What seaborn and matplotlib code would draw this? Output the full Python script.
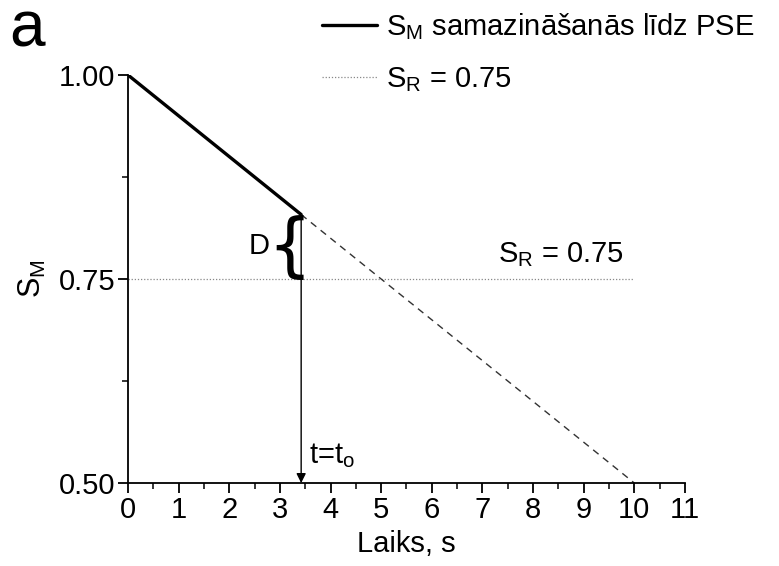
import matplotlib
matplotlib.use("Agg")
import matplotlib.pyplot as plt
import seaborn as sns
import pandas as pd

# Decrease of S_M until the PSE, then its extrapolation to zero
t_solid = [0.0, 3.42]
sm_solid = [1.00, 0.829]
t_dashed = [3.42, 10.0]
sm_dashed = [0.829, 0.50]
t_ref = [0.0, 10.0]
sr_ref = [0.75, 0.75]
t0 = 3.42
sm_t0 = 0.829

x_ticks = [0, 1, 2, 3, 4, 5, 6, 7, 8, 9, 10, 11]
y_ticks = [0.50, 0.75, 1.00]

sns.set_style("ticks")
plt.rcParams["font.family"] = ["Liberation Sans", "DejaVu Sans"]
plt.rcParams["mathtext.fontset"] = "custom"
plt.rcParams["mathtext.rm"] = "Liberation Sans"
plt.rcParams["mathtext.it"] = "Liberation Sans"
plt.rcParams["mathtext.bf"] = "Liberation Sans:bold"
for key in ("text.color", "axes.labelcolor", "xtick.color", "ytick.color",
            "axes.edgecolor"):
    plt.rcParams[key] = "black"

fig = plt.figure(figsize=(7.79, 5.66), dpi=100)
ax = fig.add_axes([0.1643, 0.1466, 0.8793 - 0.1643, 0.8675 - 0.1466])

solid = pd.DataFrame({"t": t_solid, "sm": sm_solid})
dashed = pd.DataFrame({"t": t_dashed, "sm": sm_dashed})
ref = pd.DataFrame({"t": t_ref, "sr": sr_ref})

sns.lineplot(data=solid, x="t", y="sm", ax=ax, color="black", lw=2.4,
             label=r"$\mathregular{S_M}$ samazināšanās līdz PSE")
sns.lineplot(data=ref, x="t", y="sr", ax=ax, color="#888888", lw=0.9,
             linestyle=(0, (1, 1.5)), label=r"$\mathregular{S_R}$ = 0.75")
sns.lineplot(data=dashed, x="t", y="sm", ax=ax, color="#333333", lw=1.0,
             linestyle=(0, (5, 4)), legend=False)

# vertical arrow down to t = t0
ax.annotate("", xy=(t0, 0.50), xytext=(t0, sm_t0),
            arrowprops=dict(arrowstyle="-|>", color="black", lw=1.0,
                            mutation_scale=14, shrinkA=0, shrinkB=0))

ax.set_xlim(0, 11)
ax.set_ylim(0.50, 1.00)
ax.set_xticks(x_ticks)
ax.set_yticks(y_ticks)
ax.set_yticklabels([f"{v:.2f}" for v in y_ticks])
ax.set_xticks([v + 0.5 for v in x_ticks[:-1]], minor=True)
ax.set_yticks([0.625, 0.875], minor=True)
ax.tick_params(axis="both", which="major", labelsize=21, length=7, width=1.3,
               direction="out", pad=2)
ax.tick_params(axis="both", which="minor", length=4, width=1.1, direction="out")
for side in ("left", "bottom"):
    ax.spines[side].set_linewidth(1.3)
sns.despine(ax=ax)

ax.set_xlabel("Laiks, s", fontsize=21, labelpad=5)
ax.set_ylabel(r"$\mathregular{S_M}$", fontsize=22, labelpad=8)

# bracket marking the distance D between S_M(t0) and S_R
ax.text(2.58, 0.79, "D", fontsize=21, ha="center", va="center")
ax.text(t0 - 0.23, 0.787, "{", fontsize=50, ha="center", va="center",
        family="DejaVu Sans")
ax.text(7.3, 0.770, r"$\mathregular{S_R}$ = 0.75", fontsize=21, ha="left",
        va="baseline")
ax.text(3.58, 0.524, r"t=t$\mathregular{_o}$", fontsize=21, ha="left",
        va="baseline")

fig.text(0.012, 0.917, "a", fontsize=46, ha="left", va="baseline")

leg = ax.legend(loc="upper left", bbox_to_anchor=(0.327, 1.185),
                frameon=False, fontsize=21, handlelength=1.9,
                handletextpad=0.3, labelspacing=0.8, borderaxespad=0)

fig.savefig("out.png", dpi=100)
